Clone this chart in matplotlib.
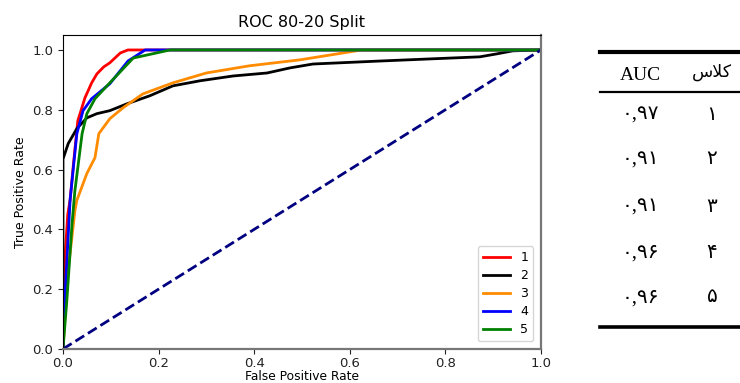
import matplotlib
matplotlib.use("Agg")
import matplotlib.pyplot as plt
from matplotlib.lines import Line2D

# ROC curves per class (false positive rate, true positive rate)
fpr_1 = [0.0, 0.004, 0.010, 0.015, 0.022, 0.031, 0.046, 0.06, 0.071, 0.085, 0.098,
         0.11, 0.12, 0.136, 1.0]
tpr_1 = [0.0, 0.30, 0.45, 0.50, 0.62, 0.763, 0.84, 0.89, 0.92, 0.943, 0.957,
         0.975, 0.99, 1.0, 1.0]

fpr_2 = [0.0, 0.0, 0.011, 0.029, 0.05, 0.071, 0.098, 0.134, 0.182, 0.23, 0.287,
         0.356, 0.427, 0.475, 0.523, 0.663, 0.872, 0.908, 0.941, 1.0]
tpr_2 = [0.0, 0.635, 0.687, 0.737, 0.773, 0.787, 0.797, 0.82, 0.847, 0.88, 0.897,
         0.913, 0.923, 0.94, 0.953, 0.963, 0.977, 0.987, 0.997, 1.0]

fpr_3 = [0.0, 0.010, 0.025, 0.029, 0.05, 0.067, 0.075, 0.098, 0.126, 0.167, 0.23,
         0.30, 0.39, 0.496, 0.625, 1.0]
tpr_3 = [0.0, 0.25, 0.463, 0.497, 0.587, 0.64, 0.72, 0.77, 0.807, 0.853, 0.89,
         0.923, 0.947, 0.967, 1.0, 1.0]

fpr_4 = [0.0, 0.005, 0.015, 0.029, 0.042, 0.06, 0.098, 0.136, 0.172, 1.0]
tpr_4 = [0.0, 0.20, 0.50, 0.72, 0.797, 0.837, 0.887, 0.963, 1.0, 1.0]

fpr_5 = [0.0, 0.008, 0.019, 0.025, 0.04, 0.05, 0.067, 0.098, 0.147, 0.224, 1.0]
tpr_5 = [0.0, 0.16, 0.42, 0.53, 0.72, 0.787, 0.837, 0.89, 0.973, 1.0, 1.0]

class_labels = ["1", "2", "3", "4", "5"]
class_colors = ["red", "black", "darkorange", "blue", "green"]

# AUC summary table (Persian digits)
table_header_auc = "AUC"
table_header_class = "\uFEB1\uFEFC\uFB90"  # کلاس, shaped and in visual order
table_classes = ["۱", "۲", "۳", "۴", "۵"]
table_auc = ["۰,۹۷", "۰,۹۱", "۰,۹۱", "۰,۹۶", "۰,۹۶"]

fig = plt.figure(figsize=(7.4, 3.83), dpi=100)
ax = fig.add_axes([0.0851, 0.0888, 0.6459, 0.8198])

curves = [(fpr_1, tpr_1), (fpr_2, tpr_2), (fpr_3, tpr_3), (fpr_4, tpr_4), (fpr_5, tpr_5)]
for (f, t), lab, col in zip(curves, class_labels, class_colors):
    ax.plot(f, t, color=col, lw=2, label=lab)
ax.plot([0, 1], [0, 1], color="navy", lw=2, linestyle="--")

ax.set_xlim(0.0, 1.0)
ax.set_ylim(0.0, 1.05)
ax.set_xticks([0.0, 0.2, 0.4, 0.6, 0.8, 1.0])
ax.set_yticks([0.0, 0.2, 0.4, 0.6, 0.8, 1.0])
ax.tick_params(labelsize=9.5, colors="#222222")
ax.tick_params(axis="x", pad=2.5)
ax.set_xlabel("False Positive Rate", fontsize=8.8, labelpad=0)
ax.set_ylabel("True Positive Rate", fontsize=9)
ax.set_title("ROC 80-20 Split", fontsize=11.5, pad=6)
for side in ("right", "bottom"):
    ax.spines[side].set_color("#777777")
    ax.spines[side].set_linewidth(1.6)
ax.legend(loc="lower right", fontsize=9, handlelength=2.2, labelspacing=0.4,
          borderaxespad=0.6)

# table on the right
fam = ["Liberation Serif", "DejaVu Sans"]
H = 383.0
def fy(py):
    return 1 - py / H

x_auc = 640 / 740
x_cls = 712 / 740
fig.text(x_auc, fy(75), table_header_auc, ha="center", va="center", fontsize=14, family=fam)
fig.text(x_cls, fy(72), table_header_class, ha="center", va="center", fontsize=12.5, family=fam)
row_y = [115, 160, 207, 253, 298]
for yy, c, a in zip(row_y, table_classes, table_auc):
    fig.text(x_auc, fy(yy), a, ha="center", va="center", fontsize=14.5, family=fam)
    fig.text(x_cls, fy(yy), c, ha="center", va="center", fontsize=14.5, family=fam)

for yy, lw in ((52, 3.0), (92, 1.6), (327, 2.6)):
    fig.add_artist(Line2D([600 / 740, 1.0], [fy(yy), fy(yy)], color="black", lw=lw,
                          transform=fig.transFigure))

fig.savefig("out.png", dpi=100)
